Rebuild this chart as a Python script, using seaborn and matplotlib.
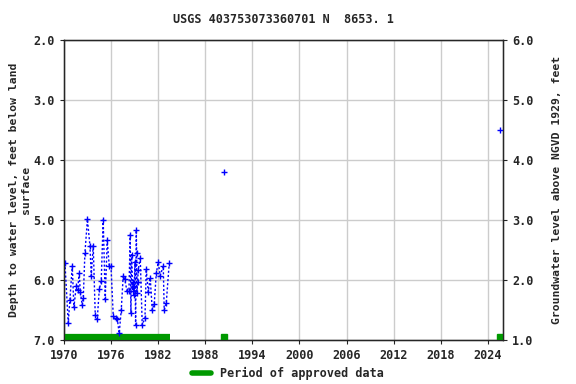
import matplotlib
matplotlib.use("Agg")
import matplotlib.pyplot as plt
import pandas as pd
import seaborn as sns

# measured depth to water, feet below land surface
years = [
    1970.13, 1970.55, 1970.76, 1971.06, 1971.27, 1971.57, 1971.74, 1971.95,
    1972.08, 1972.33, 1972.46, 1972.67, 1972.99, 1973.31, 1973.48, 1973.73,
    1973.99, 1974.24, 1974.50, 1974.75, 1975.00, 1975.26, 1975.51, 1975.77,
    1975.99, 1976.28, 1976.58, 1976.79, 1977.04, 1977.30, 1977.55, 1977.73,
    1978.02, 1978.28, 1978.44, 1978.53, 1978.62, 1978.75, 1978.83, 1978.92,
    1978.95, 1979.04, 1979.13, 1979.21, 1979.26, 1979.30, 1979.39, 1979.46,
    1979.72, 1979.97, 1980.32, 1980.48, 1980.74, 1980.99, 1981.25, 1981.50,
    1981.76, 1982.01, 1982.26, 1982.65, 1982.77, 1983.03, 1983.41,
    1990.40, 2025.60,
]
depth = [
    5.72, 6.72, 6.33, 5.77, 6.46, 6.10, 6.17, 5.89,
    6.20, 6.42, 6.31, 5.56, 4.99, 5.43, 5.93, 5.43,
    6.59, 6.66, 6.16, 6.02, 5.00, 6.32, 5.34, 5.77,
    5.77, 6.60, 6.64, 6.65, 6.89, 6.50, 5.93, 5.98,
    6.18, 6.18, 5.25, 6.56, 5.58, 6.18, 6.03, 6.25,
    6.10, 5.70, 6.75, 5.17, 5.55, 6.22, 6.03, 5.83,
    5.64, 6.75, 6.64, 5.82, 6.20, 5.97, 6.50, 6.40,
    5.89, 5.71, 5.93, 5.77, 6.50, 6.39, 5.72,
    4.20, 3.50,
]
# continuous record segments (gaps are not connected)
segment = [0] * 63 + [1, 2]

# periods of approved data
approved_start = [1970.0, 1990.40, 2025.60]
approved_end = [1983.45, 1990.40, 2025.60]

df = pd.DataFrame({"year": years, "depth": depth, "segment": segment})

sns.set_style("white")
plt.rcParams["font.family"] = ["DejaVu Sans Mono"]
plt.rcParams["font.weight"] = "bold"

fig = plt.figure(figsize=(5.76, 3.84), dpi=100)
ax = fig.add_axes([0.111, 0.115, 0.762, 0.781])

sns.lineplot(data=df, x="year", y="depth", units="segment", estimator=None,
             sort=False, color="blue", linestyle=(0, (1.5, 1.5)), linewidth=1,
             ax=ax, legend=False)
sns.scatterplot(data=df, x="year", y="depth", marker="+", color="blue",
                s=16, linewidth=1, ax=ax, legend=False, zorder=4)

for s, e in zip(approved_start, approved_end):
    if e - s > 0.1:
        ax.plot([s, e], [6.96, 6.96], color="#009900", linewidth=4.5,
                solid_capstyle="butt", zorder=3)
    else:
        ax.plot([s], [6.96], marker="s", color="#009900", markersize=4,
                linestyle="none", zorder=3)

ax.set_xlim(1970, 2025.9)
ax.set_ylim(7.0, 2.0)
ax.set_xticks(list(range(1970, 2025, 6)))
ax.set_yticks([2.0, 3.0, 4.0, 5.0, 6.0, 7.0])
ax.set_yticklabels([f"{v:.1f}" for v in [2.0, 3.0, 4.0, 5.0, 6.0, 7.0]])
ax.grid(True, color="#cccccc", linewidth=1)
ax.tick_params(axis="both", labelsize=8.5, length=3, direction="out",
               left=True, bottom=True)
for sp in ax.spines.values():
    sp.set_color("black")
    sp.set_linewidth(1)
ax.set_xlabel("")
ax.set_ylabel("Depth to water level, feet below land\nsurface", fontsize=8.2,
              fontweight="bold", multialignment="center")
ax.yaxis.set_label_coords(-0.075, 0.5)

ax2 = ax.twinx()
ax2.set_ylim(1.0, 6.0)
ax2.set_yticks([1.0, 2.0, 3.0, 4.0, 5.0, 6.0])
ax2.set_yticklabels([f"{v:.1f}" for v in [1.0, 2.0, 3.0, 4.0, 5.0, 6.0]])
ax2.tick_params(axis="y", labelsize=8.5, length=3, direction="out", right=True)
ax2.set_ylabel("Groundwater level above NGVD 1929, feet", fontsize=8.2,
               fontweight="bold")
ax2.yaxis.set_label_coords(1.112, 0.5)
ax2.grid(False)

fig.text(0.492, 0.948, "USGS 403753073360701 N  8653. 1", ha="center",
         va="center", fontsize=8.5, fontweight="bold")

fig.legend(handles=[plt.Line2D([], [], color="#009900", linewidth=4)],
           labels=["Period of approved data"], loc="center",
           bbox_to_anchor=(0.5, 0.028), frameon=False, fontsize=8.5,
           handlelength=1.6)

fig.savefig("out.png", dpi=100)
